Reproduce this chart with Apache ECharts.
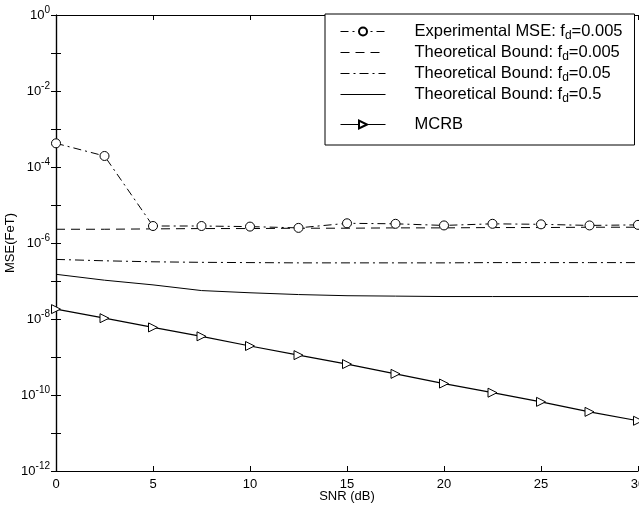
<!DOCTYPE html>
<html>
<head>
<meta charset="utf-8">
<script src="https://cdn.jsdelivr.net/npm/echarts@6/dist/echarts.min.js"></script>
<style>html,body{margin:0;padding:0;background:#fff}#c{width:639px;height:506px}</style>
</head>
<body>
<div id="c"></div>
<script>
const snr = [0, 2.5, 5, 7.5, 10, 12.5, 15, 17.5, 20, 22.5, 25, 27.5, 30];
const expMSE = [4.2e-4, 1.95e-4, 2.8e-6, 2.8e-6, 2.7e-6, 2.5e-6, 3.3e-6, 3.2e-6, 2.9e-6, 3.2e-6, 3.1e-6, 2.9e-6, 3.0e-6];
const bound0005 = [2.3e-6, 2.3e-6, 2.35e-6, 2.4e-6, 2.4e-6, 2.45e-6, 2.45e-6, 2.5e-6, 2.5e-6, 2.55e-6, 2.55e-6, 2.6e-6, 2.6e-6];
const bound005 = [3.7e-7, 3.4e-7, 3.2e-7, 3.1e-7, 3.05e-7, 3.0e-7, 3.0e-7, 3.0e-7, 3.0e-7, 3.05e-7, 3.05e-7, 3.05e-7, 3.05e-7];
const bound05 = [1.5e-7, 1.05e-7, 7.9e-8, 5.6e-8, 4.9e-8, 4.4e-8, 4.1e-8, 4.0e-8, 3.9e-8, 3.9e-8, 3.9e-8, 3.9e-8, 3.9e-8];
const mcrb = [1.82e-8, 1.05e-8, 6.0e-9, 3.5e-9, 1.95e-9, 1.12e-9, 6.5e-10, 3.6e-10, 2.0e-10, 1.15e-10, 6.6e-11, 3.6e-11, 2.1e-11];
const seriesNames = ['Experimental MSE: fd=0.005', 'Theoretical Bound: fd=0.005', 'Theoretical Bound: fd=0.05', 'Theoretical Bound: fd=0.5', 'MCRB'];
const legendRich = {
  'Experimental MSE: fd=0.005': 'Experimental MSE: f{sub|d}=0.005',
  'Theoretical Bound: fd=0.005': 'Theoretical Bound: f{sub|d}=0.005',
  'Theoretical Bound: fd=0.05': 'Theoretical Bound: f{sub|d}=0.05',
  'Theoretical Bound: fd=0.5': 'Theoretical Bound: f{sub|d}=0.5',
  'MCRB': 'MCRB'
};
const xAxisName = 'SNR (dB)';
const yAxisName = 'MSE(FeT)';

const pairs = arr => snr.map((x, i) => [x, arr[i]]);
const FONT = 'Liberation Sans';
const chart = echarts.init(document.getElementById('c'), null, {renderer: 'canvas'});

const axisCommon = {
  axisLine: {show: true, lineStyle: {color: '#000', width: 1.2}},
  axisTick: {show: true, inside: true, length: 5, lineStyle: {color: '#000', width: 1}},
  splitLine: {show: false}
};
const textRich = {fontFamily: FONT, fontSize: 16.5, color: '#000',
  rich: {sub: {fontFamily: FONT, fontSize: 12, color: '#000', padding: [9, 0, 0, 0]}}};
const noSym = {opacity: 0};

const option = {
  animation: false,
  backgroundColor: '#fff',
  grid: {left: 56, right: 1, top: 15, bottom: 35, containLabel: false, outerBoundsMode: 'none'},
  xAxis: [
    Object.assign({type: 'value', min: 0, max: 30, interval: 5, position: 'bottom',
      name: xAxisName, nameLocation: 'middle', nameGap: 19, nameMoveOverlap: false,
      nameTextStyle: {fontFamily: FONT, fontSize: 13, color: '#000'},
      axisLabel: {fontFamily: FONT, fontSize: 13, color: '#000', margin: 7}}, axisCommon),
    Object.assign({type: 'value', min: 0, max: 30, interval: 5, position: 'top',
      axisLabel: {show: false}}, axisCommon)
  ],
  yAxis: [
    Object.assign({type: 'log', logBase: 10, min: 1e-12, max: 1, interval: 1, position: 'left',
      name: yAxisName, nameLocation: 'middle', nameGap: 39, nameMoveOverlap: false,
      nameTextStyle: {fontFamily: FONT, fontSize: 13, color: '#000'},
      axisLabel: {fontFamily: FONT, fontSize: 13, color: '#000', margin: 6,
        formatter: v => { const e = Math.round(Math.log10(v)); return (e % 2) ? '' : '10{sup|' + e + '}'; },
        rich: {sup: {fontFamily: FONT, fontSize: 10, color: '#000', padding: [0, 0, 10, 0]}}}}, axisCommon),
    Object.assign({type: 'log', logBase: 10, min: 1e-12, max: 1, interval: 1, position: 'right',
      axisLabel: {show: false}}, axisCommon)
  ],
  legend: [
    {data: [{name: seriesNames[0]}, {name: seriesNames[1], itemStyle: noSym},
            {name: seriesNames[2], itemStyle: noSym}, {name: seriesNames[3], itemStyle: noSym}],
      orient: 'vertical', left: 325, top: 14,
      padding: [9, 12, 40, 15], itemGap: 2, itemWidth: 45, itemHeight: 10,
      lineStyle: {width: 1},
      borderColor: '#000', borderWidth: 1, backgroundColor: '#fff',
      formatter: n => legendRich[n], textStyle: Object.assign({padding: [0, 0, 0, 24]}, textRich)},
    {data: [{name: seriesNames[4]}], orient: 'vertical', left: 325, top: 116,
      padding: [0, 12, 0, 15], itemWidth: 45, itemHeight: 10,
      lineStyle: {width: 1},
      formatter: n => legendRich[n], textStyle: Object.assign({padding: [0, 0, 0, 24]}, textRich)}
  ],
  series: [
    {name: seriesNames[0], type: 'line', data: pairs(expMSE), symbol: 'circle', symbolSize: 9,
      showAllSymbol: true, itemStyle: {color: '#fff', borderColor: '#000', borderWidth: 1},
      lineStyle: {color: '#000', width: 1, type: [8, 4, 2, 4]}, z: 5},
    {name: seriesNames[1], type: 'line', data: pairs(bound0005), symbol: 'none',
      itemStyle: {color: '#000'}, lineStyle: {color: '#000', width: 1, type: [9, 6]}},
    {name: seriesNames[2], type: 'line', data: pairs(bound005), symbol: 'none',
      itemStyle: {color: '#000'}, lineStyle: {color: '#000', width: 1, type: [9, 4, 2, 4]}},
    {name: seriesNames[3], type: 'line', data: pairs(bound05), symbol: 'none',
      itemStyle: {color: '#000'}, lineStyle: {color: '#000', width: 1}},
    {name: seriesNames[4], type: 'line', data: pairs(mcrb), symbol: 'triangle', symbolSize: 9,
      symbolRotate: -90, showAllSymbol: true,
      itemStyle: {color: '#fff', borderColor: '#000', borderWidth: 1},
      lineStyle: {color: '#000', width: 1.2}, z: 5}
  ]
};
chart.setOption(option);
</script>
</body>
</html>
